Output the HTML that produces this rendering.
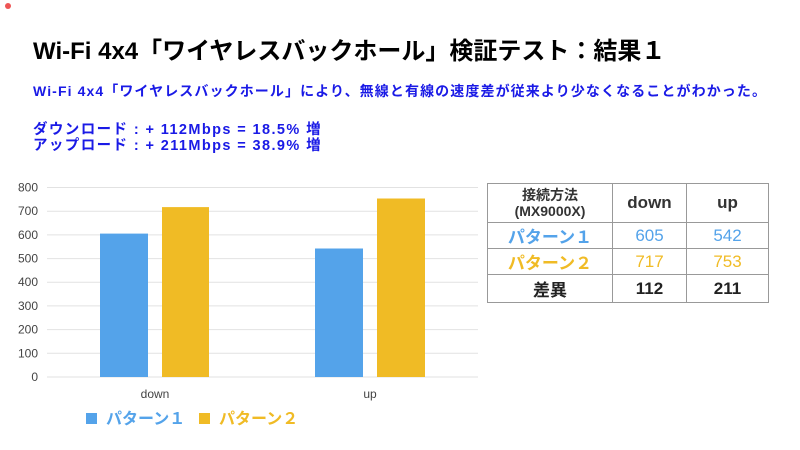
<!DOCTYPE html><html><head><meta charset="utf-8"><style>
body{margin:0;width:800px;height:450px;background:#fff;position:relative;overflow:hidden;font-family:"Liberation Sans","Noto Sans CJK JP",sans-serif}
.t{position:absolute;white-space:nowrap;font-weight:bold}
table{position:absolute;left:487px;top:183px;border-collapse:collapse;font-weight:bold;font-size:17px}
td{border:1px solid #999;text-align:center;padding:0}
</style></head><body>
<div style="position:absolute;left:5px;top:3px;width:6px;height:6px;border-radius:50%;background:#e55"></div>
<div class="t" style="left:33px;top:31px;font-size:24px;color:#000">Wi-Fi 4x4「ワイヤレスバックホール」検証テスト：結果１</div>
<div class="t" style="left:33px;top:81px;font-size:14px;letter-spacing:1.1px;color:#1a1ae6">Wi-Fi 4x4「ワイヤレスバックホール」により、無線と有線の速度差が従来より少なくなることがわかった。</div>
<div class="t" style="left:33px;top:122px;font-size:14.5px;letter-spacing:1.4px;color:#1a1ae6;line-height:16px">ダウンロード : + 112Mbps = 18.5% 増<br>アップロード : + 211Mbps = 38.9% 増</div>
<svg style="position:absolute;left:0;top:0" width="800" height="450" font-family="Liberation Sans,sans-serif" font-size="12" fill="#444">
<g stroke="#e2e2e2" stroke-width="1">
<line x1="47" x2="478" y1="187.5" y2="187.5"/><line x1="47" x2="478" y1="211.2" y2="211.2"/><line x1="47" x2="478" y1="234.9" y2="234.9"/><line x1="47" x2="478" y1="258.6" y2="258.6"/><line x1="47" x2="478" y1="282.2" y2="282.2"/><line x1="47" x2="478" y1="305.9" y2="305.9"/><line x1="47" x2="478" y1="329.6" y2="329.6"/><line x1="47" x2="478" y1="353.3" y2="353.3"/><line x1="47" x2="478" y1="377" y2="377"/></g>
<g text-anchor="end"><text x="38" y="191.5">800</text><text x="38" y="215.2">700</text><text x="38" y="238.9">600</text><text x="38" y="262.6">500</text><text x="38" y="286.2">400</text><text x="38" y="309.9">300</text><text x="38" y="333.6">200</text><text x="38" y="357.3">100</text><text x="38" y="381">0</text></g>
<rect x="100" y="233.6" width="48" height="143.4" fill="#54a3ea"/>
<rect x="162" y="207.1" width="47" height="169.9" fill="#f0bb25"/>
<rect x="315" y="248.5" width="48" height="128.5" fill="#54a3ea"/>
<rect x="377" y="198.5" width="48" height="178.5" fill="#f0bb25"/>
<text x="155" y="398" text-anchor="middle">down</text><text x="370" y="398" text-anchor="middle">up</text>
<rect x="86" y="413" width="11" height="11" fill="#54a3ea"/><rect x="199" y="413" width="11" height="11" fill="#f0bb25"/>
<text x="106" y="424" font-size="16" font-weight="bold" fill="#54a3ea" font-family="Liberation Sans,Noto Sans CJK JP,sans-serif">パターン１</text>
<text x="219" y="424" font-size="16" font-weight="bold" fill="#f0bb25" font-family="Liberation Sans,Noto Sans CJK JP,sans-serif">パターン２</text>
</svg>
<table>
<tr style="height:39px"><td style="width:124px;font-size:14px;line-height:16px;color:#333">接続方法<br>(MX9000X)</td><td style="width:73px;color:#333">down</td><td style="width:81px;color:#333">up</td></tr>
<tr style="height:25px;color:#54a3ea"><td>パターン１</td><td style="font-weight:normal">605</td><td style="font-weight:normal">542</td></tr>
<tr style="height:25px;color:#f0bb25"><td>パターン２</td><td style="font-weight:normal">717</td><td style="font-weight:normal">753</td></tr>
<tr style="height:28px;color:#222"><td>差異</td><td>112</td><td>211</td></tr>
</table>
</body></html>
